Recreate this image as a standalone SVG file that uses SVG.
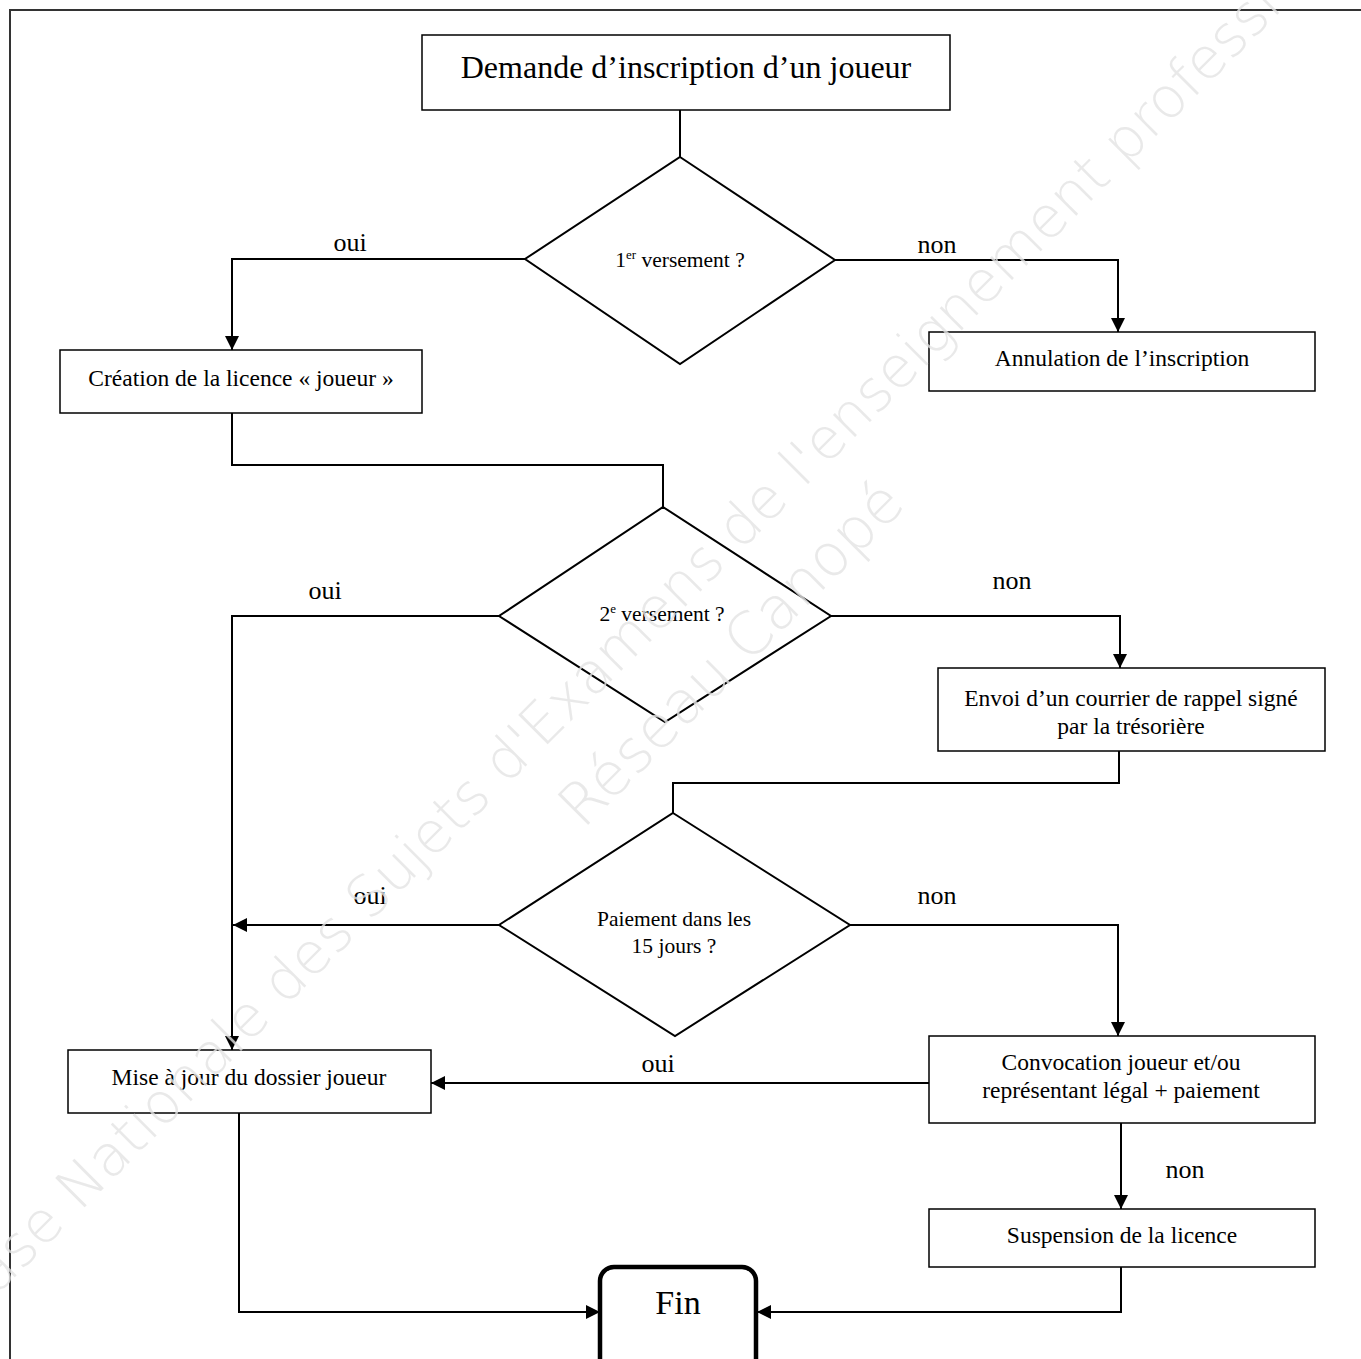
<svg xmlns="http://www.w3.org/2000/svg" width="1361" height="1359" viewBox="0 0 1361 1359">
<defs>
<marker id="arr" markerUnits="userSpaceOnUse" markerWidth="14" markerHeight="14" viewBox="0 0 14 14" refX="14" refY="7" orient="auto">
<path d="M0,0 L14,7 L0,14 Z" fill="#000"/>
</marker>
<style>
.box{fill:#fff;stroke:#000;stroke-width:1.5}
.dia{fill:#fff;stroke:#000;stroke-width:2}
.t{font-family:"Liberation Serif","Times New Roman",serif;fill:#000;text-anchor:middle}
.n{font-size:23.5px}
.d{font-size:21.5px}
.lbl{font-family:"Liberation Serif","Times New Roman",serif;font-size:26px;fill:#000;text-anchor:middle}
.c{fill:none;stroke:#000;stroke-width:2}
.ca{fill:none;stroke:#000;stroke-width:2;marker-end:url(#arr)}
.wm{font-family:"DejaVu Sans","Noto Sans",sans-serif;fill:#e4e4e4;fill-opacity:0.8;font-weight:300}
</style>
</defs>
<rect width="1361" height="1359" fill="#fff"/>
<g id="border">
<path d="M10,1359 V10 H1361" fill="none" stroke="#333" stroke-width="2"/>
</g>
<g id="connectors">
<path class="c" d="M680,110 V157"/>
<path class="ca" d="M525,259 H232 V350"/>
<path class="ca" d="M835,260 H1118 V332"/>
<path class="c" d="M232,413 V465 H663 V507"/>
<path class="ca" d="M499,616 H232 V1050"/>
<path class="ca" d="M831,616 H1120 V668"/>
<path class="c" d="M1119,751 V783 H673 V813"/>
<path class="ca" d="M499,925 H233"/>
<path class="ca" d="M850,925 H1118 V1036"/>
<path class="ca" d="M929,1083 H431"/>
<path class="ca" d="M1121,1123 V1209"/>
<path class="ca" d="M239,1113 V1312 H600"/>
<path class="ca" d="M1121,1267 V1312 H757"/>
<text class="lbl" x="350" y="251">oui</text>
<text class="lbl" x="937" y="253">non</text>
<text class="lbl" x="325" y="599">oui</text>
<text class="lbl" x="1012" y="589">non</text>
<text class="lbl" x="370" y="904">oui</text>
<text class="lbl" x="937" y="904">non</text>
<text class="lbl" x="658" y="1072">oui</text>
<text class="lbl" x="1185" y="1178">non</text>
</g>
<g id="demande">
<rect class="box" x="422" y="35" width="528" height="75"/>
<text class="t" x="686" y="78" font-size="32">Demande d’inscription d’un joueur</text>
</g>
<g id="versement1">
<polygon class="dia" points="680,157 835,260 680,364 525,259"/>
<text class="t d" x="680" y="267">1<tspan font-size="13" dy="-8">er</tspan><tspan dy="8"> versement ?</tspan></text>
</g>
<g id="creation">
<rect class="box" x="60" y="350" width="362" height="63"/>
<text class="t n" x="241" y="386">Création de la licence « joueur »</text>
</g>
<g id="annulation">
<rect class="box" x="929" y="332" width="386" height="59"/>
<text class="t n" x="1122" y="366">Annulation de l’inscription</text>
</g>
<g id="versement2">
<polygon class="dia" points="663,507 831,616 665,722 499,616"/>
<text class="t d" x="662" y="621">2<tspan font-size="13" dy="-8">e</tspan><tspan dy="8"> versement ?</tspan></text>
</g>
<g id="envoi">
<rect class="box" x="938" y="668" width="387" height="83"/>
<text class="t n" x="1131" y="706">Envoi d’un courrier de rappel signé</text>
<text class="t n" x="1131" y="734">par la trésorière</text>
</g>
<g id="paiement">
<polygon class="dia" points="673,813 850,925 675,1036 499,925"/>
<text class="t d" x="674" y="926">Paiement dans les</text>
<text class="t d" x="674" y="953">15 jours ?</text>
</g>
<g id="convocation">
<rect class="box" x="929" y="1036" width="386" height="87"/>
<text class="t n" x="1121" y="1070">Convocation joueur et/ou</text>
<text class="t n" x="1121" y="1098">représentant légal + paiement</text>
</g>
<g id="miseajour">
<rect class="box" x="68" y="1050" width="363" height="63"/>
<text class="t n" x="249" y="1085">Mise à jour du dossier joueur</text>
</g>
<g id="suspension">
<rect class="box" x="929" y="1209" width="386" height="58"/>
<text class="t n" x="1122" y="1243">Suspension de la licence</text>
</g>
<g id="fin">
<rect x="600" y="1267" width="156" height="110" rx="14" fill="#fff" stroke="#000" stroke-width="4.5"/>
<text class="t" x="678" y="1314" font-size="34">Fin</text>
</g>
<g id="watermark">
<text class="wm" font-size="57" transform="translate(-30,1322) rotate(-45)">Base Nationale des Sujets d'Examens de l'enseignement professionnel</text>
<text class="wm" font-size="59" transform="translate(583,830) rotate(-45)">Réseau Canopé</text>
</g>
</svg>
